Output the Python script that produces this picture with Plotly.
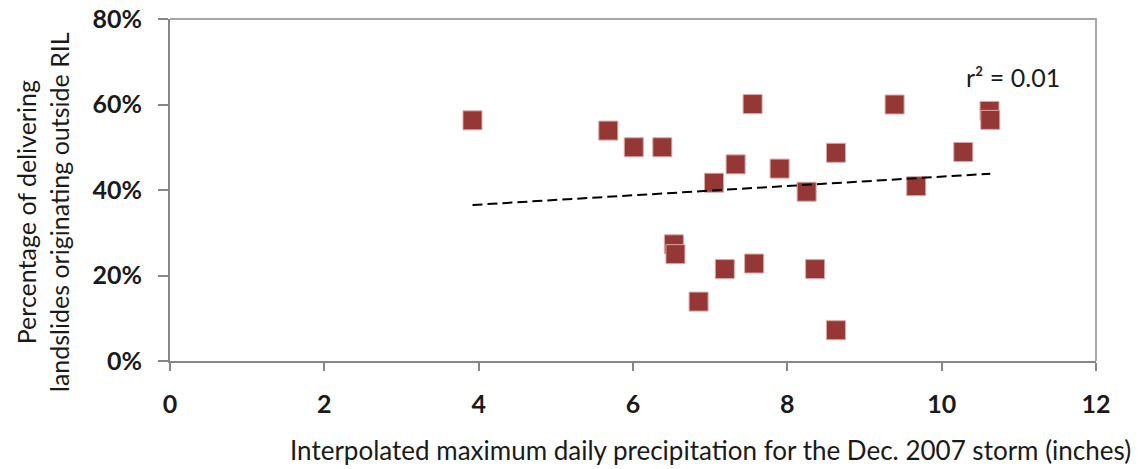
import numpy as np
import plotly.graph_objects as go

# Interpolated max daily precipitation (inches) and % of delivering landslides outside RIL
precip_in = [3.92, 5.68, 6.01, 6.38, 7.55, 9.39, 7.33, 7.90, 8.63, 7.05, 8.25,
             9.67, 10.28, 10.62, 10.63, 6.53, 6.55, 7.19, 7.57, 8.36, 6.85, 8.63]
pct_outside = [56.3, 53.9, 50.0, 50.0, 60.1, 60.0, 46.0, 45.0, 48.7, 41.7, 39.6,
               40.9, 48.9, 58.5, 56.4, 27.3, 25.0, 21.5, 22.8, 21.5, 13.9, 7.2]
r2_label = "r² = 0.01"

x_ticks = [0, 2, 4, 6, 8, 10, 12]
y_ticks = [0, 20, 40, 60, 80]
y_tick_text = [f"{v}%" for v in y_ticks]

x_arr = np.array(precip_in)
y_arr = np.array(pct_outside)
slope, intercept = np.polyfit(x_arr, y_arr, 1)
trend_x = np.array([x_arr.min(), x_arr.max()])
trend_y = slope * trend_x + intercept

FONT = "Lato"
TEXT = "#1a1a1a"
AXIS_GREY = "#868686"
BOX_GREY = "#a6a6a6"

fig = go.Figure()
fig.add_trace(go.Scatter(
    x=precip_in, y=pct_outside, mode="markers",
    marker=dict(symbol="square", size=19, color="#953735",
                line=dict(color="#d9a9a8", width=1)),
    hoverinfo="x+y", showlegend=False,
))
fig.add_trace(go.Scatter(
    x=trend_x, y=trend_y, mode="lines",
    line=dict(color="black", width=2, dash="10px,5px"),
    hoverinfo="skip", showlegend=False,
))

fig.update_layout(
    width=1140, height=469,
    margin=dict(l=170, r=44, t=19, b=108, autoexpand=False),
    paper_bgcolor="white", plot_bgcolor="white",
    font=dict(family=FONT, color=TEXT),
    xaxis=dict(
        range=[0, 12], tickvals=x_ticks, ticks="outside", ticklen=8,
        tickwidth=2, tickcolor=AXIS_GREY, showline=True, linecolor=AXIS_GREY,
        linewidth=2, showgrid=False, zeroline=False, automargin=False,
        tickfont=dict(size=25, family=FONT, weight="bold", color=TEXT),
        ticklabelstandoff=12,
    ),
    yaxis=dict(
        range=[0, 80], tickvals=y_ticks, ticktext=y_tick_text, ticks="outside",
        ticklen=10, tickwidth=2, tickcolor=AXIS_GREY, showline=True,
        linecolor=AXIS_GREY, linewidth=2, showgrid=False, zeroline=False,
        automargin=False,
        tickfont=dict(size=25, family=FONT, weight="bold", color=TEXT),
        ticklabelstandoff=11,
    ),
    shapes=[dict(
        type="path", xref="paper", yref="paper",
        path="M 0,1 L 1,1 L 1,0",
        line=dict(color=BOX_GREY, width=2),
    )],
    annotations=[
        dict(text="Interpolated maximum daily precipitation for the Dec. 2007 storm (inches)",
             xref="paper", yref="paper", x=(710 - 170) / 926, y=-(450 - 361) / 342,
             xanchor="center", yanchor="middle", showarrow=False,
             font=dict(size=26, family=FONT, color=TEXT)),
        dict(text="Percentage of delivering<br>landslides originating outside RIL",
             xref="paper", yref="paper", x=(42 - 170) / 926, y=(361 - 212) / 342,
             xanchor="center", yanchor="middle", textangle=-90, showarrow=False,
             font=dict(size=25, family=FONT, color=TEXT)),
        dict(text=r2_label, xref="x", yref="paper", x=10.92, y=(361 - 77) / 342,
             xanchor="center", yanchor="middle", showarrow=False,
             font=dict(size=25, family=FONT, color=TEXT)),
    ],
)

fig.write_html("out.html")
